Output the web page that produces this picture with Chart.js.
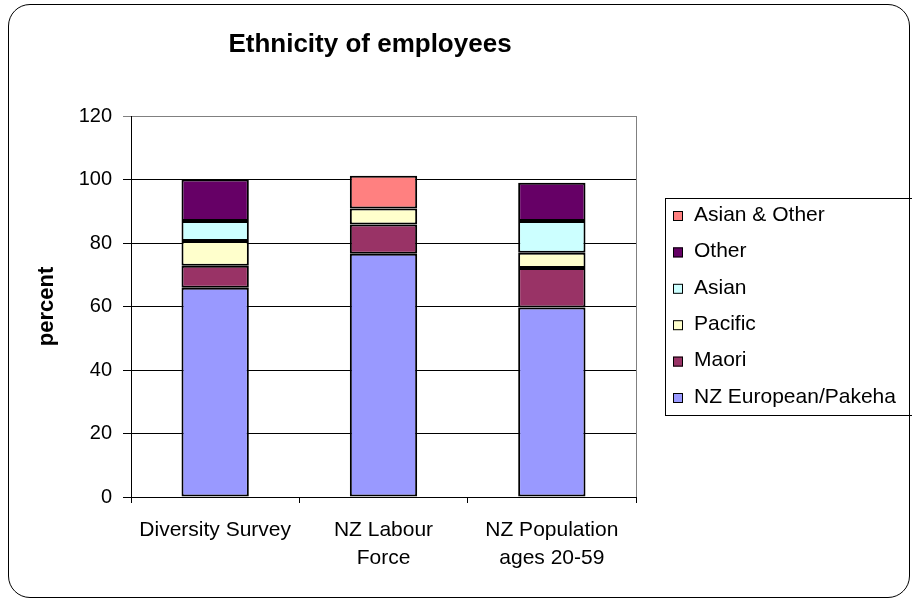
<!DOCTYPE html>
<html>
<head>
<meta charset="utf-8">
<script src="https://cdn.jsdelivr.net/npm/chart.js@4.4.1/dist/chart.umd.min.js"></script>
<style>
  html, body { margin: 0; padding: 0; background: #fff; }
  #wrap { position: relative; width: 912px; height: 598px; overflow: hidden; background: #fff; }
  #frame { position: absolute; left: 8px; top: 4px; width: 902px; height: 594px; border: 1.5px solid #000; border-radius: 22px; box-sizing: border-box; pointer-events: none; }
  canvas { position: absolute; left: 0; top: 0; }
</style>
</head>
<body>
<div id="wrap">
  <canvas id="c" width="912" height="598"></canvas>
  <div id="frame"></div>
</div>
<script>
const chartTitle = 'Ethnicity of employees';
const yAxisTitle = 'percent';
const categories = ['Diversity Survey', ['NZ Labour', 'Force'], ['NZ Population', 'ages 20-59']];
const yTicks = [0, 20, 40, 60, 80, 100, 120];

const nzEuropean = [65.9, 76.6, 59.7];
const maori      = [6.9, 9.2, 12.4];
const pacific    = [7.8, 5.1, 4.8];
const asian      = [6.3, null, 10.0];
const other      = [13.1, null, 12.1];
const asianOther = [null, 10.3, null];

const FONT = "'Liberation Sans', Arial, Helvetica, sans-serif";

const decor = {
  id: 'decor',
  afterDraw(chart) {
    const ctx = chart.ctx;
    const a = chart.chartArea;
    ctx.save();
    ctx.strokeStyle = '#808080';
    ctx.lineWidth = 1;
    ctx.beginPath();
    ctx.moveTo(Math.round(a.right) + 0.5, a.top);
    ctx.lineTo(Math.round(a.right) + 0.5, a.bottom);
    ctx.stroke();
    ctx.fillStyle = '#000';
    ctx.font = 'bold 26px ' + FONT;
    ctx.textAlign = 'center';
    ctx.textBaseline = 'middle';
    ctx.fillText(chartTitle, 370, 45);
    const bx = 665, by = 198, bw = 250, bh = 217;
    ctx.strokeStyle = '#000';
    ctx.lineWidth = 1;
    ctx.strokeRect(bx + 0.5, by + 0.5, bw, bh);
    const ds = chart.data.datasets.slice().reverse();
    const step = 36.4;
    ctx.font = '21px ' + FONT;
    ctx.textAlign = 'left';
    ctx.textBaseline = 'middle';
    ds.forEach((d, i) => {
      const cy = by + 17 + i * step;
      ctx.fillStyle = d.backgroundColor;
      ctx.fillRect(673, cy - 4, 10, 10);
      ctx.strokeStyle = '#000';
      ctx.strokeRect(673.5, cy - 3.5, 9, 9);
      ctx.fillStyle = '#000';
      ctx.fillText(d.label, 694, cy);
    });
    ctx.restore();
  }
};

const mk = (label, data, color) => ({
  label, data, backgroundColor: color, borderColor: '#000', borderWidth: 2, borderSkipped: false,
  barPercentage: 0.4, categoryPercentage: 1.0
});

new Chart(document.getElementById('c'), {
  type: 'bar',
  data: {
    labels: categories,
    datasets: [
      mk('NZ European/Pakeha', nzEuropean, '#9999FF'),
      mk('Maori', maori, '#993366'),
      mk('Pacific', pacific, '#FFFFCC'),
      mk('Asian', asian, '#CCFFFF'),
      mk('Other', other, '#660066'),
      mk('Asian & Other', asianOther, '#FF8080')
    ]
  },
  options: {
    responsive: false,
    animation: false,
    layout: { padding: { top: 116, left: 0, right: 276, bottom: 0 } },
    plugins: { legend: { display: false }, tooltip: { enabled: false }, title: { display: false } },
    scales: {
      x: {
        stacked: true,
        grid: { offset: true, drawOnChartArea: false, drawTicks: true, tickLength: 6, color: '#000' },
        border: { display: true, color: '#000', width: 1 },
        ticks: { color: '#000', font: { family: FONT, size: 21, lineHeight: 1.33 }, padding: 13, maxRotation: 0, autoSkip: false },
        afterFit(s) { s.height = 101; }
      },
      y: {
        stacked: true,
        min: 0, max: 120,
        afterBuildTicks(s) { s.ticks = yTicks.map(v => ({ value: v })); },
        grid: { color: (c) => (c.tick && c.tick.value === 120 ? '#808080' : '#000'), lineWidth: 1, drawTicks: true, tickLength: 8 },
        border: { display: true, color: '#000', width: 1 },
        ticks: { color: '#000', font: { family: FONT, size: 20 }, padding: 11 },
        title: { display: true, text: yAxisTitle, color: '#000', font: { family: FONT, size: 22, weight: 'bold' }, padding: { top: 34, bottom: 0 } },
        afterFit(s) { s.width = 131; }
      }
    }
  },
  plugins: [decor]
});
</script>
</body>
</html>
